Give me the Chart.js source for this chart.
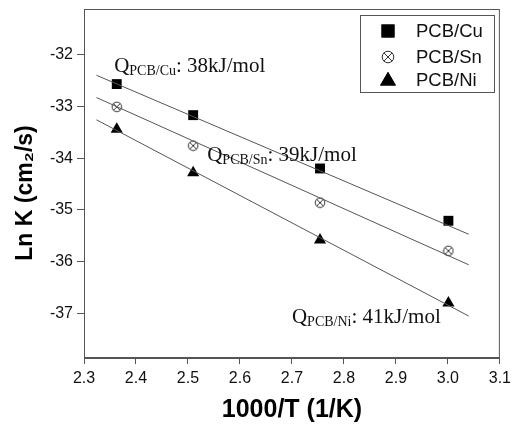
<!DOCTYPE html>
<html><head><meta charset="utf-8">
<script src="https://cdn.jsdelivr.net/npm/chart.js@4/dist/chart.umd.min.js"></script>
<style>html,body{margin:0;padding:0;background:#fff}canvas{display:block}</style>
</head><body>
<canvas id="c" width="516" height="427"></canvas>
<script>
// ---- data ----
const xValues = [2.363, 2.510, 2.754, 3.001];
const cuValues = [-32.57, -33.17, -34.20, -35.21];
const snValues = [-33.01, -33.76, -34.86, -35.79];
const niValues = [-33.44, -34.28, -35.58, -36.80];
const fitX = [2.324, 3.040];
const cuFit = [-32.40, -35.47];
const snFit = [-32.83, -36.06];
const niFit = [-33.26, -37.05];
const seriesNames = ['PCB/Cu', 'PCB/Sn', 'PCB/Ni'];
const energies = ['38kJ/mol', '39kJ/mol', '41kJ/mol'];
const xTicks = [2.3, 2.4, 2.5, 2.6, 2.7, 2.8, 2.9, 3.0, 3.1];
const yTicks = [-37, -36, -35, -34, -33, -32];

const pts = (xs, ys) => xs.map((x, i) => ({x: x, y: ys[i]}));

// crossed circle marker
function crossCircle(size) {
  const c = document.createElement('canvas');
  c.width = size; c.height = size;
  const g = c.getContext('2d');
  const m = size / 2, r = m - 1.2, d = r * 0.707;
  g.strokeStyle = '#333'; g.lineWidth = 1;
  g.beginPath(); g.arc(m, m, r, 0, Math.PI * 2); g.stroke();
  g.beginPath();
  g.moveTo(m - d, m - d); g.lineTo(m + d, m + d);
  g.moveTo(m + d, m - d); g.lineTo(m - d, m + d);
  g.stroke();
  return c;
}
const cc = crossCircle(12);
const ccLegend = crossCircle(14);

const lineStyle = {showLine: true, pointRadius: 0, borderColor: '#555', borderWidth: 1, fill: false};
const markStyle = {showLine: false, backgroundColor: '#000', borderColor: '#000', borderWidth: 0};

const datasets = [
  Object.assign({label: 'fitCu', data: pts(fitX, cuFit)}, lineStyle),
  Object.assign({label: 'fitSn', data: pts(fitX, snFit)}, lineStyle),
  Object.assign({label: 'fitNi', data: pts(fitX, niFit)}, lineStyle),
  Object.assign({label: seriesNames[0], data: pts(xValues, cuValues), pointStyle: 'rect', pointRadius: 7}, markStyle),
  Object.assign({label: seriesNames[1], data: pts(xValues, snValues), pointStyle: cc, pointRadius: 6}, markStyle),
  Object.assign({label: seriesNames[2], data: pts(xValues, niValues), pointStyle: 'triangle', pointRadius: 7}, markStyle)
];

const AX = '#555';
const annPos = [
  {x: 2.358, y: -32.34},
  {x: 2.537, y: -34.05},
  {x: 2.700, y: -37.19}
];
const subs = seriesNames;

const decor = {
  id: 'decor',
  afterDraw(chart) {
    const ctx = chart.ctx, a = chart.chartArea;
    const xs = chart.scales.x, ys = chart.scales.y;
    ctx.save();
    // frame
    ctx.strokeStyle = AX; ctx.lineWidth = 1;
    ctx.strokeRect(a.left + 0.5, a.top + 0.5, a.right - a.left - 1, a.bottom - a.top - 1);
    // annotations
    ctx.fillStyle = '#111';
    ctx.textBaseline = 'alphabetic';
    ctx.textAlign = 'left';
    for (let i = 0; i < 3; i++) {
      let px = xs.getPixelForValue(annPos[i].x);
      const py = ys.getPixelForValue(annPos[i].y);
      ctx.font = '21px "Liberation Serif", "Times New Roman", serif';
      ctx.fillText('Q', px, py);
      px += ctx.measureText('Q').width;
      ctx.font = '14px "Liberation Serif", "Times New Roman", serif';
      ctx.fillText(subs[i], px, py + 3);
      px += ctx.measureText(subs[i]).width;
      ctx.font = '21px "Liberation Serif", "Times New Roman", serif';
      ctx.fillText(': ' + energies[i], px, py);
    }
    // legend
    const lx = 360, ly = 15, lw = 134, lh = 77;
    ctx.strokeStyle = AX;
    ctx.strokeRect(lx + 0.5, ly + 0.5, lw, lh);
    ctx.font = '18.5px "Liberation Sans", Arial, sans-serif';
    ctx.textBaseline = 'middle';
    const rows = [31, 57, 80];
    const legStyles = [
      {pointStyle: 'rect', radius: 9.2},
      {pointStyle: ccLegend, radius: 7},
      {pointStyle: 'triangle', radius: 9.2}
    ];
    for (let i = 0; i < 3; i++) {
      const st = legStyles[i];
      ctx.fillStyle = '#000';
      ctx.beginPath();
      Chart.helpers.drawPoint(ctx, {pointStyle: st.pointStyle, radius: st.radius, borderWidth: 0, rotation: 0}, 388, rows[i] + (i === 2 ? 1 : 0));
      if (st.pointStyle !== ccLegend) ctx.fill();
      ctx.fillStyle = '#111';
      ctx.fillText(seriesNames[i], 416, rows[i] + 1);
    }
    // axis titles
    ctx.textAlign = 'center';
    ctx.textBaseline = 'middle';
    ctx.fillStyle = '#000';
    ctx.font = 'bold 25px "Liberation Sans", Arial, sans-serif';
    ctx.fillText('1000/T (1/K)', (a.left + a.right) / 2, 410);
    ctx.font = 'bold 23px "Liberation Sans", Arial, sans-serif';
    ctx.translate(26, 193);
    ctx.rotate(-Math.PI / 2);
    ctx.fillText('Ln K (cm\u2082/s)', 0, 0);
    ctx.restore();
  }
};

new Chart(document.getElementById('c'), {
  type: 'scatter',
  data: {datasets: datasets},
  options: {
    responsive: false,
    animation: false,
    layout: {padding: {top: 9, right: 16, left: 0, bottom: 0}},
    plugins: {legend: {display: false}, tooltip: {enabled: false}},
    scales: {
      x: {
        type: 'linear', min: 2.3, max: 3.1,
        afterBuildTicks: s => { s.ticks = xTicks.map(v => ({value: v})); },
        afterFit: s => { s.height = 69; },
        grid: {display: true, drawOnChartArea: false, drawTicks: true, tickLength: 6, tickColor: AX},
        border: {display: true, color: AX},
        ticks: {color: '#111', font: {family: '"Liberation Sans", Arial, sans-serif', size: 16}, padding: 5,
                callback: v => Number(v).toFixed(1), maxRotation: 0, autoSkip: false}
      },
      y: {
        type: 'linear', min: -37.86, max: -31.12,
        afterBuildTicks: s => { s.ticks = yTicks.map(v => ({value: v})); },
        afterFit: s => { s.width = 84; s.paddingTop = 0; s.paddingBottom = 0; },
        grid: {display: true, drawOnChartArea: false, drawTicks: true, tickLength: 7, tickColor: AX},
        border: {display: true, color: AX},
        ticks: {color: '#111', font: {family: '"Liberation Sans", Arial, sans-serif', size: 16}, padding: 4,
                callback: v => String(v), autoSkip: false}
      }
    }
  },
  plugins: [decor]
});
</script>
</body></html>
